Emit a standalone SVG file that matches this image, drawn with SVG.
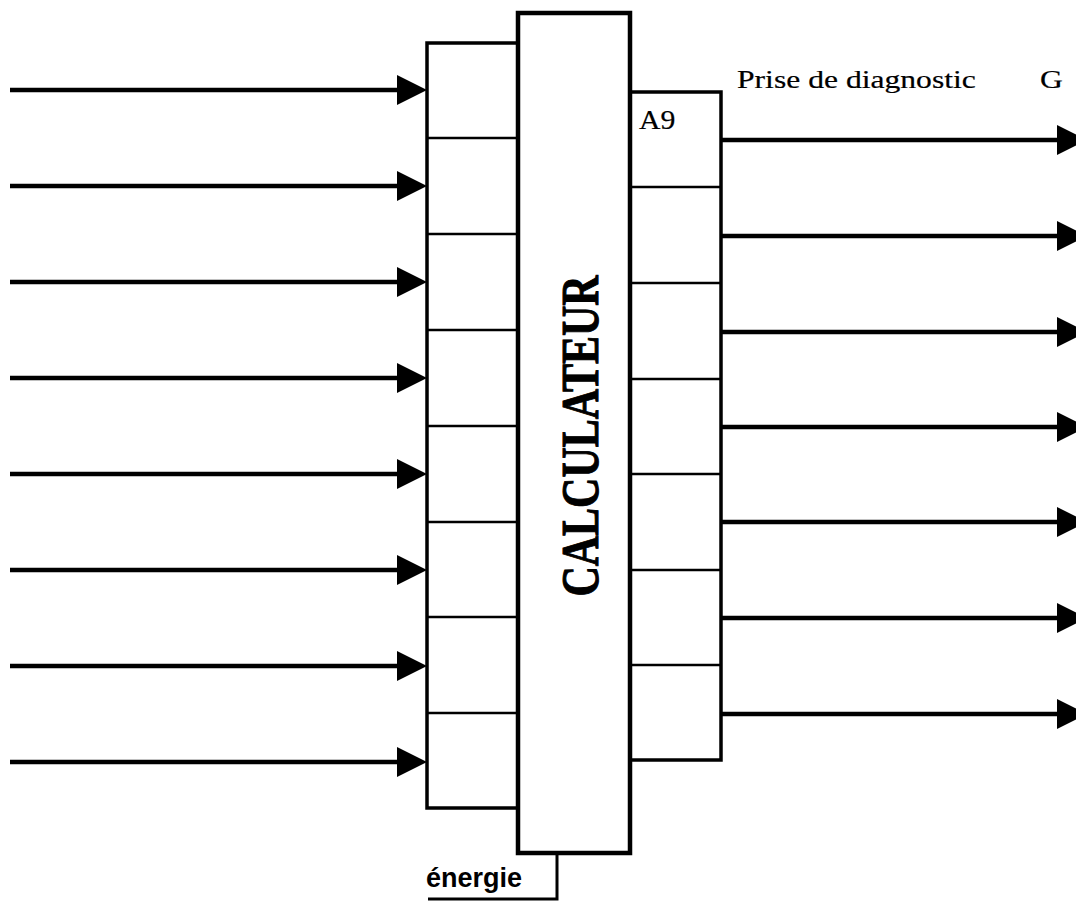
<svg xmlns="http://www.w3.org/2000/svg" width="1076" height="901" viewBox="0 0 1076 901">
  <style>
    .blk { fill: #fff; stroke: #000; stroke-width: 3.5; }
    .cell { stroke: #000; stroke-width: 2.5; }
    .core { fill: #fff; stroke: #000; stroke-width: 4.5; }
    .wire { stroke: #000; stroke-width: 4.5; fill: none; }
    .serif { font-family: "Liberation Serif", "Times New Roman", serif; fill: #000; stroke: #000; stroke-width: 0.2; }
    .title { font-family: "Liberation Serif", "Times New Roman", serif; font-weight: bold; fill: #000; stroke: #000; stroke-width: 0.8; }
    .sans { font-family: "Liberation Sans", Arial, sans-serif; font-weight: bold; fill: #000; }
  </style>
  <defs>
    <marker id="head" viewBox="0 0 30 30" refX="2" refY="15" markerWidth="30" markerHeight="30" markerUnits="userSpaceOnUse" orient="auto">
      <path d="M0,0 L30,15 L0,30 z" fill="#000"/>
    </marker>
  </defs>

  <rect width="1076" height="901" fill="#fff"/>

  <!-- input terminal block (8 cells) -->
  <g id="inputs-block">
    <rect class="blk" x="427" y="43" width="91" height="765"/>
    <line class="cell" x1="427" y1="138" x2="518" y2="138"/>
    <line class="cell" x1="427" y1="234" x2="518" y2="234"/>
    <line class="cell" x1="427" y1="330" x2="518" y2="330"/>
    <line class="cell" x1="427" y1="426" x2="518" y2="426"/>
    <line class="cell" x1="427" y1="522" x2="518" y2="522"/>
    <line class="cell" x1="427" y1="617" x2="518" y2="617"/>
    <line class="cell" x1="427" y1="713" x2="518" y2="713"/>
  </g>

  <!-- output terminal block (7 cells) -->
  <g id="outputs-block">
    <rect class="blk" x="630" y="92" width="91" height="668"/>
    <line class="cell" x1="630" y1="187" x2="721" y2="187"/>
    <line class="cell" x1="630" y1="283" x2="721" y2="283"/>
    <line class="cell" x1="630" y1="379" x2="721" y2="379"/>
    <line class="cell" x1="630" y1="474" x2="721" y2="474"/>
    <line class="cell" x1="630" y1="570" x2="721" y2="570"/>
    <line class="cell" x1="630" y1="665" x2="721" y2="665"/>
    <text class="serif" font-size="27" transform="translate(639,129) scale(1.1,1)">A9</text>
  </g>

  <!-- central computer -->
  <g id="calculateur">
    <rect class="core" x="518" y="13" width="112" height="840"/>
    <text class="title" font-size="42" text-anchor="middle" transform="translate(598,436) scale(1.25,1) rotate(-90)">CALCULATEUR</text>
  </g>

  <!-- labels -->
  <g id="diagnostic-label">
    <text class="serif" font-size="25.5" transform="translate(737,88) scale(1.24,1)">Prise de diagnostic</text>
    <text class="serif" font-size="25.5" transform="translate(1040,88) scale(1.24,1)">G</text>
  </g>
  <g id="energie">
    <text class="sans" font-size="27" x="426" y="887">énergie</text>
  </g>

  <!-- connectors -->
  <g id="connectors">
    <line class="wire" x1="10" y1="90" x2="399" y2="90" marker-end="url(#head)"/>
    <line class="wire" x1="10" y1="186" x2="399" y2="186" marker-end="url(#head)"/>
    <line class="wire" x1="10" y1="282" x2="399" y2="282" marker-end="url(#head)"/>
    <line class="wire" x1="10" y1="378" x2="399" y2="378" marker-end="url(#head)"/>
    <line class="wire" x1="10" y1="474" x2="399" y2="474" marker-end="url(#head)"/>
    <line class="wire" x1="10" y1="570" x2="399" y2="570" marker-end="url(#head)"/>
    <line class="wire" x1="10" y1="666" x2="399" y2="666" marker-end="url(#head)"/>
    <line class="wire" x1="10" y1="762" x2="399" y2="762" marker-end="url(#head)"/>

    <line class="wire" x1="721" y1="140" x2="1059" y2="140" marker-end="url(#head)"/>
    <line class="wire" x1="721" y1="236" x2="1059" y2="236" marker-end="url(#head)"/>
    <line class="wire" x1="721" y1="332" x2="1059" y2="332" marker-end="url(#head)"/>
    <line class="wire" x1="721" y1="427" x2="1059" y2="427" marker-end="url(#head)"/>
    <line class="wire" x1="721" y1="522" x2="1059" y2="522" marker-end="url(#head)"/>
    <line class="wire" x1="721" y1="618" x2="1059" y2="618" marker-end="url(#head)"/>
    <line class="wire" x1="721" y1="714" x2="1059" y2="714" marker-end="url(#head)"/>

    <!-- power feed -->
    <polyline points="557,853 557,899 428,899" fill="none" stroke="#000" stroke-width="3"/>
  </g>
</svg>
